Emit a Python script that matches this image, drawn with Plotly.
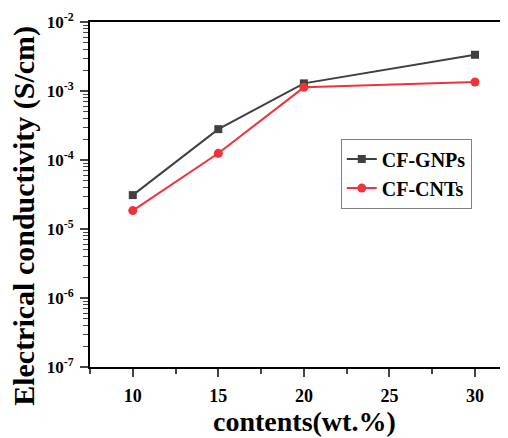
import plotly.graph_objects as go

contents = [10, 15, 20, 30]
gnp = [3.1e-5, 2.8e-4, 1.29e-3, 3.35e-3]
cnt = [1.85e-5, 1.25e-4, 1.13e-3, 1.35e-3]
x_ticks = [10, 15, 20, 25, 30]
y_tickvals = [1e-7, 1e-6, 1e-5, 1e-4, 1e-3, 1e-2]
y_ticktext = ["10<sup>-7</sup>", "10<sup>-6</sup>", "10<sup>-5</sup>", "10<sup>-4</sup>",
              "10<sup>-3</sup>", "10<sup>-2</sup>"]
x_title = "contents(wt.%)"
y_title = "Electrical conductivity (S/cm)"

serif = "Liberation Serif"

fig = go.Figure()
fig.add_trace(go.Scatter(x=contents, y=gnp, name="CF-GNPs", mode="lines+markers",
                         line=dict(color="#404040", width=2),
                         marker=dict(symbol="square", size=8, color="#404040")))
fig.add_trace(go.Scatter(x=contents, y=cnt, name="CF-CNTs", mode="lines+markers",
                         line=dict(color="#f0333a", width=2),
                         marker=dict(symbol="circle", size=9, color="#f0333a")))

# page body has an 8px margin, so the figure is drawn 8px right/down in the window
fig.update_layout(
    width=500, height=430,
    margin=dict(l=82, r=0, t=14, b=71, autoexpand=False),
    plot_bgcolor="white", paper_bgcolor="white",
    showlegend=True,
    legend=dict(x=0.6, y=0.662, xanchor="left", yanchor="top",
                bgcolor="white", bordercolor="#808080", borderwidth=1,
                font=dict(family=serif, size=20, color="black", weight="bold"),
                tracegroupgap=0),
    font=dict(family=serif, color="black"),
    annotations=[
        dict(text=y_title, xref="paper", yref="paper", x=-0.158, y=0.438,
             xanchor="center", yanchor="middle", textangle=-90, showarrow=False,
             font=dict(family=serif, size=30, weight="bold", color="black")),
        dict(text=x_title, xref="paper", yref="paper", x=0.512, y=-0.158,
             xanchor="center", yanchor="middle", showarrow=False,
             font=dict(family=serif, size=28, weight="bold", color="black")),
    ],
)
fig.update_xaxes(
    range=[7.5, 31.93], tickvals=x_ticks, ticks="outside", ticklen=8, tickwidth=2,
    showline=True, linecolor="black", linewidth=2, mirror=True, showgrid=False, zeroline=False,
    automargin=False, ticklabelstandoff=3,
    tickfont=dict(family=serif, size=18, weight="bold", color="black"),
    minor=dict(ticks="outside", ticklen=5, tickwidth=2, dtick=2.5, tick0=0, showgrid=False),
)
fig.update_yaxes(
    type="log", range=[-7, -2], tickvals=y_tickvals, ticktext=y_ticktext,
    ticks="outside", ticklen=8, tickwidth=2,
    showline=True, linecolor="black", linewidth=2, mirror=True, showgrid=False, zeroline=False,
    automargin=False, ticklabelstandoff=3,
    tickfont=dict(family=serif, size=17, weight="bold", color="black"),
    minor=dict(ticks="outside", ticklen=5, tickwidth=1, dtick="D1", showgrid=False),
)

fig.write_html("out.html")
